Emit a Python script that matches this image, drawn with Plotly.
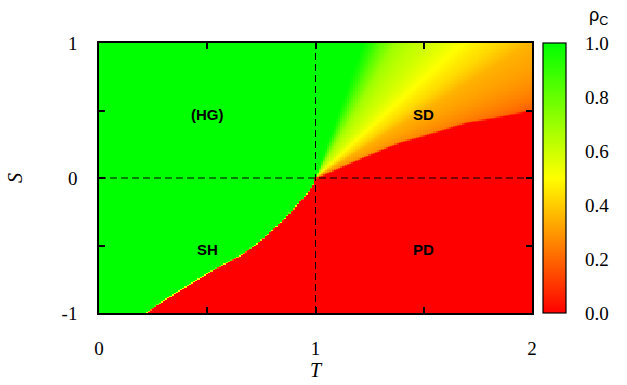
import numpy as np
import plotly.graph_objects as go

# ---------------- data ----------------
# parameter grid (T horizontal, S vertical)
T_vals = np.round(np.linspace(0.0, 2.0, 201), 3)
S_vals = np.round(np.linspace(-1.0, 1.0, 201), 3)

# SH / PD frontier (green above, red below)
shpd_T = [0.22, 0.29, 0.42, 0.51, 0.65, 0.73, 0.80, 0.86, 0.91, 0.96, 1.00]
shpd_S = [-1.00, -0.92, -0.79, -0.70, -0.58, -0.49, -0.39, -0.30, -0.21, -0.12, -0.03]

# rho_C read along the top edge (S = 1) of the SD quadrant
top_T = [1.00, 1.22, 1.26, 1.30, 1.37, 1.45, 1.53, 1.60, 1.68, 1.76, 1.84, 1.92, 2.00]
top_rho = [1.00, 1.00, 0.92, 0.82, 0.69, 0.63, 0.59, 0.55, 0.50, 0.46, 0.43, 0.39, 0.35]

# rho_C read along the right edge (T = 2) above the SD / PD frontier
right_S = [1.00, 0.90, 0.80, 0.70, 0.62, 0.56, 0.52]
right_rho = [0.35, 0.33, 0.31, 0.28, 0.25, 0.22, 0.19]

# SD / PD frontier
sdpd_T = [1.00, 1.02, 1.11, 1.235, 1.39, 1.54, 1.70, 1.85, 2.00]
sdpd_S = [0.00, 0.005, 0.07, 0.16, 0.26, 0.33, 0.41, 0.45, 0.50]

# region labels
region_labels = ["(HG)", "SD", "SH", "PD"]
region_T = [0.5, 1.5, 0.5, 1.5]
region_S = [0.5, 0.5, -0.5, -0.5]

# ticks
x_ticks = [0, 0.5, 1, 1.5, 2]
x_ticklabels = ["0", "", "1", "", "2"]
y_ticks = [-1, -0.5, 0, 0.5, 1]
y_ticklabels = ["-1", "", "0", "", "1"]
cbar_ticks = [0.0, 0.2, 0.4, 0.6, 0.8, 1.0]

# ---------------- build the rho_C field from the readings ----------------
TT, SS = np.meshgrid(T_vals, S_vals)
z = np.ones_like(TT)

# Stag-hunt quadrant: sharp frontier with a thin transition
sb = np.interp(T_vals, shpd_T, shpd_S, left=-2.0, right=0.0)
SB = np.broadcast_to(sb, TT.shape)
z_sh = np.clip(0.5 + (SS - SB) / 0.012, 0.0, 1.0)
sh_mask = (TT < 1) & (SS < 0)
z[sh_mask] = z_sh[sh_mask]

# Prisoner's dilemma quadrant
z[(TT >= 1) & (SS < 0)] = 0.0

# Snowdrift quadrant: values follow rays from (1, 0)
ray_u = np.concatenate([np.array(top_T) - 1.0, 1.0 / np.array(right_S)[1:]])
ray_rho = np.concatenate([np.array(top_rho), np.array(right_rho)[1:]])
U = np.where(SS > 0, (TT - 1.0) / np.maximum(SS, 1e-9), ray_u[-1])
U = np.clip(U, 0.0, ray_u[-1])
rho_ray = np.interp(U, ray_u, ray_rho)
sdb = np.interp(T_vals, sdpd_T, sdpd_S)
SDB = np.broadcast_to(sdb, TT.shape)
fade = np.clip(0.5 + (SS - SDB) / 0.015, 0.0, 1.0)
sd_mask = (TT >= 1) & (SS >= 0)
z[sd_mask] = (rho_ray * fade)[sd_mask]

# ---------------- figure ----------------
W, H = 627, 385
ml, mr, mt, mb = 99, 95, 43, 72
pw = W - ml - mr
ph = H - mt - mb
cb_left_px = 543
cb_thick = 23
cb_x0 = (cb_left_px - ml) / pw
cb_x1 = cb_x0 + cb_thick / pw

colorscale = [[0.0, "rgb(255,0,0)"], [0.5, "rgb(255,255,0)"], [1.0, "rgb(0,255,0)"]]

serif = "Liberation Serif, Times New Roman, serif"
sans = "Liberation Sans, Arial, sans-serif"

fig = go.Figure()
fig.add_trace(go.Heatmap(
    x=T_vals, y=S_vals, z=z, zmin=0, zmax=1, zsmooth=False,
    colorscale=colorscale, hoverinfo="skip",
    colorbar=dict(
        x=cb_x0, xanchor="left", xpad=0, y=0.5, yanchor="middle",
        len=1, lenmode="fraction", ypad=0,
        thickness=cb_thick, thicknessmode="pixels",
        outlinewidth=1.2, outlinecolor="black",
        tickvals=cbar_ticks, ticktext=[f"{v:.1f}" for v in cbar_ticks],
        ticks="outside", ticklen=15, tickcolor="rgba(0,0,0,0)",
        tickfont=dict(family=serif, size=19, color="black"),
    ),
))

axis_common = dict(
    showline=True, linecolor="black", linewidth=1.5, mirror="ticks",
    ticks="inside", ticklen=6, tickwidth=1.5, tickcolor="black",
    showgrid=False, zeroline=False, automargin=False,
    tickfont=dict(family=serif, size=19, color="black"),
)

fig.update_xaxes(range=[0, 2], tickvals=x_ticks, ticktext=x_ticklabels,
                 ticklabelstandoff=17,
                 title=dict(text="<i>T</i>", font=dict(family=serif, size=20, color="black"), standoff=4),
                 **axis_common)
fig.update_yaxes(range=[-1, 1], tickvals=y_ticks, ticktext=y_ticklabels,
                 ticklabelstandoff=16,
                 title=dict(text="<i>S</i>", font=dict(family=serif, size=20, color="black"), standoff=34),
                 **axis_common)

# dashed reference lines at T = 1 and S = 0
fig.add_shape(type="line", xref="x", yref="y", x0=1, x1=1, y0=-1, y1=1,
              line=dict(color="black", width=1, dash="7px,4px"))
fig.add_shape(type="line", xref="x", yref="y", x0=0, x1=2, y0=0, y1=0,
              line=dict(color="black", width=1, dash="7px,4px"))

# inner tick marks of the colour bar (both sides)
tl = 5 / pw
for v in cbar_ticks[1:-1]:
    fig.add_shape(type="line", xref="paper", yref="paper", x0=cb_x1 - tl, x1=cb_x1, y0=v, y1=v,
                  line=dict(color="black", width=1.2))
    fig.add_shape(type="line", xref="paper", yref="paper", x0=cb_x0, x1=cb_x0 + tl, y0=v, y1=v,
                  line=dict(color="black", width=1.2))

for lab, tx, sy in zip(region_labels, region_T, region_S):
    fig.add_annotation(x=tx, y=sy, xref="x", yref="y", text=f"<b>{lab}</b>", showarrow=False,
                       yshift=-4, font=dict(family=sans, size=15, color="black"))

fig.add_annotation(x=(598 - ml) / pw, y=(H - mb - 17) / ph, xref="paper", yref="paper",
                   xanchor="center", yanchor="middle",
                   text="ρ<sub>C</sub>", showarrow=False,
                   font=dict(family=sans, size=18, color="black"))

fig.update_layout(
    width=W, height=H, margin=dict(l=ml, r=mr, t=mt, b=mb, pad=0, autoexpand=False),
    paper_bgcolor="white", plot_bgcolor="white", showlegend=False,
)

fig.write_html("out.html", config={"displayModeBar": False},
               post_script="document.body.style.margin='0';")
